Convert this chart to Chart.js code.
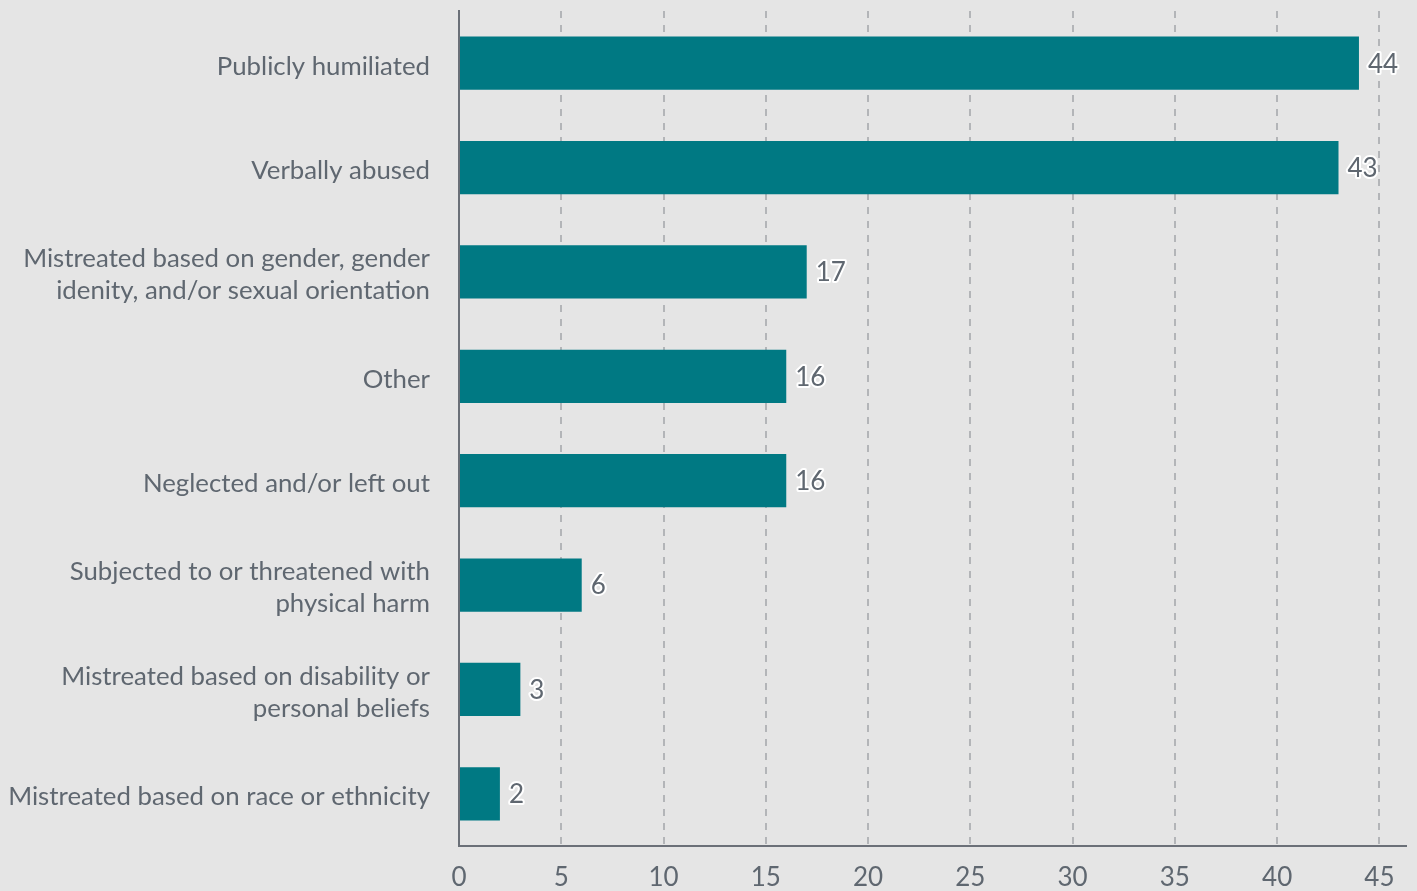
<!DOCTYPE html>
<html>
<head>
<meta charset="utf-8">
<script src="https://cdn.jsdelivr.net/npm/chart.js@4/dist/chart.umd.min.js"></script>
<style>
html,body{margin:0;padding:0;background:#e5e5e5;}
#wrap{width:1417px;height:891px;position:relative;}
</style>
</head>
<body>
<div id="wrap"><canvas id="c" width="1417" height="891"></canvas></div>
<script>
const categories = [
  "Publicly humiliated",
  "Verbally abused",
  ["Mistreated based on gender, gender", "idenity, and/or sexual orientation"],
  "Other",
  "Neglected and/or left out",
  ["Subjected to or threatened with", "physical harm"],
  ["Mistreated based on disability or", "personal beliefs"],
  "Mistreated based on race or ethnicity"
];
const values = [44, 43, 17, 16, 16, 6, 3, 2];
const tickValues = [0, 5, 10, 15, 20, 25, 30, 35, 40, 45];

const textColor = '#5f6770';
const axisColor = '#6b7078';

const valueLabels = {
  id: 'valueLabels',
  afterDatasetsDraw(chart) {
    const ctx = chart.ctx;
    const meta = chart.getDatasetMeta(0);
    ctx.save();
    ctx.font = '26px Lato';
    ctx.textAlign = 'left';
    ctx.textBaseline = 'middle';
    ctx.lineJoin = 'round';
    meta.data.forEach((bar, i) => {
      const x = bar.x + 9;
      const y = bar.y + 1;
      const t = String(values[i]);
      ctx.strokeStyle = '#ffffff';
      ctx.lineWidth = 4;
      ctx.strokeText(t, x, y);
      ctx.fillStyle = textColor;
      ctx.fillText(t, x, y);
    });
    ctx.restore();
  }
};

new Chart(document.getElementById('c'), {
  type: 'bar',
  data: {
    labels: categories,
    datasets: [{
      data: values,
      backgroundColor: '#007983',
      borderWidth: 0,
      barPercentage: 0.51,
      categoryPercentage: 1.0
    }]
  },
  options: {
    indexAxis: 'y',
    responsive: false,
    animation: false,
    layout: { padding: { top: 11, right: 11, left: 0, bottom: 0 } },
    plugins: { legend: { display: false }, tooltip: { enabled: false } },
    scales: {
      x: {
        min: 0,
        max: 46.3,
        afterBuildTicks(scale) {
          scale.ticks = tickValues.map(v => ({ value: v }));
        },
        afterFit(scale) { scale.height = 45; scale.paddingLeft = 0; scale.paddingRight = 0; },
        ticks: {
          stepSize: 5,
          color: textColor,
          font: { family: 'Lato', size: 26 },
          padding: 16,
          maxRotation: 0
        },
        grid: {
          drawTicks: false,
          color: ctx => ctx.tick && ctx.tick.value === 0 ? 'rgba(0,0,0,0)' : '#b3b5b8',
          lineWidth: 2
        },
        border: { display: true, color: axisColor, width: 2, dash: [7, 7] }
      },
      y: {
        afterFit(scale) { scale.width = 459; scale.paddingTop = 0; scale.paddingBottom = 0; },
        ticks: {
          color: textColor,
          font: { family: 'Lato', size: 25.8, lineHeight: 1.24 },
          padding: 29,
          labelOffset: 3
        },
        grid: { display: false, drawTicks: false },
        border: { display: true, color: axisColor, width: 2 }
      }
    }
  },
  plugins: [valueLabels]
});
</script>
</body>
</html>
